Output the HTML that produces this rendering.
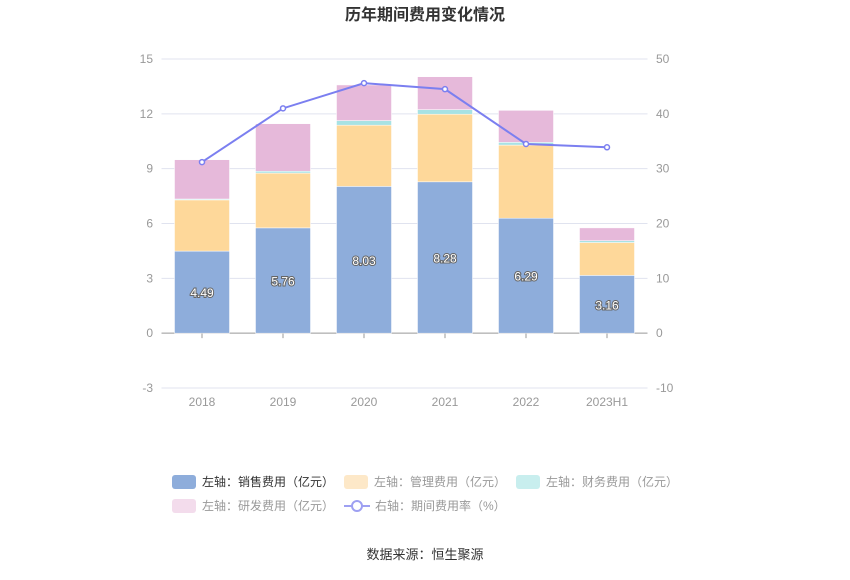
<!DOCTYPE html>
<html><head><meta charset="utf-8"><style>
body{margin:0;background:#fff;}
svg text{font-family:"Liberation Sans","Noto Sans CJK SC",sans-serif;}
</style></head><body>
<svg id="c" width="850" height="575" xmlns="http://www.w3.org/2000/svg">
<text x="425" y="20" text-anchor="middle" font-size="16" font-weight="bold" fill="#333">历年期间费用变化情况</text>
<g id="grid"></g><g id="bars"></g><g id="line"></g><g id="labels"></g>
<g id="legend" font-size="12" fill="#999">
<rect x="172" y="475" width="24" height="14" rx="3" fill="#8eaddb"/>
<text x="202" y="486"><tspan fill="#333">左轴：销售费用（亿元）</tspan></text>
<rect x="344" y="475" width="24" height="14" rx="3" fill="#fde8c8"/>
<text x="374" y="486">左轴：管理费用（亿元）</text>
<rect x="516" y="475" width="24" height="14" rx="3" fill="#c8eeee"/>
<text x="546" y="486">左轴：财务费用（亿元）</text>
<rect x="172" y="499" width="24" height="14" rx="3" fill="#f3dcec"/>
<text x="202" y="510">左轴：研发费用（亿元）</text>
<line x1="344" y1="506" x2="370" y2="506" stroke="#9ea0f2" stroke-width="2"/>
<circle cx="357" cy="506" r="5" fill="#fff" stroke="#9ea0f2" stroke-width="2"/>
<text x="375" y="510">右轴：期间费用率（%）</text>
</g>
<text x="425" y="559" text-anchor="middle" font-size="13" fill="#333">数据来源：恒生聚源</text>
</svg>
<script>
const categories=["2018","2019","2020","2021","2022","2023H1"];
const sales=[4.49,5.76,8.03,8.28,6.29,3.16];
const mgmt=[2.8,3.0,3.35,3.7,4.0,1.8];
const finance=[0.05,0.1,0.25,0.25,0.15,0.1];
const rd=[2.15,2.6,1.95,1.8,1.75,0.7];
const rate=[31.2,41.0,45.6,44.5,34.5,33.9];
const leftTicks=[-3,0,3,6,9,12,15];
const rightTicks=[-10,0,10,20,30,40,50];
const NS="http://www.w3.org/2000/svg";
const x0=161.5,x1=647.5,yTop=59,yBot=388;
const yL=v=>yBot-(v+3)/18*(yBot-yTop);
const yR=v=>yBot-(v+10)/60*(yBot-yTop);
const bw=(x1-x0)/categories.length;
const xc=i=>x0+bw*(i+0.5);
function mk(tag,attrs,parent){const e=document.createElementNS(NS,tag);for(const k in attrs)e.setAttribute(k,attrs[k]);document.getElementById(parent).appendChild(e);return e;}
leftTicks.forEach((t,i)=>{
  const y=yL(t);
  const g=mk('line',{x1:x0,x2:x1,y1:y,y2:y,stroke:t===0?'#999':'#e0e3ef','stroke-width':1},'grid');
  
  
  const a=mk('text',{x:153,y:y+4,'text-anchor':'end','font-size':12,fill:'#999'},'grid');a.textContent=t;
  
  
  const b=mk('text',{x:656,y:yR(rightTicks[i])+4,'font-size':12,fill:'#999'},'grid');b.textContent=rightTicks[i];
  
  
});
categories.forEach((c,i)=>{
  const t=mk('text',{x:xc(i),y:406,'text-anchor':'middle','font-size':12,fill:'#999'},'grid');t.textContent=c;
  
  
  const tk=mk('line',{x1:xc(i),x2:xc(i),y1:yL(0),y2:yL(0)+5,stroke:'#999'},'grid');
  
  
  let base=0;
  [[sales,'#8eaddb','bar-sales'],[mgmt,'#fed89a','bar-mgmt'],[finance,'#a8e2e4','bar-finance'],[rd,'#e6b9da','bar-rd']].forEach(([arr,col,nm])=>{
    const v=arr[i];
    const r=mk('rect',{x:xc(i)-27.5,width:55,y:yL(base+v),height:yL(base)-yL(base+v),fill:col,stroke:'#fff','stroke-width':0.5},'bars');
    
    
    base+=v;
  });
  const l=mk('text',{x:xc(i),y:yL(sales[i]/2)+5,'text-anchor':'middle','font-size':12,fill:'#fff',stroke:'#666','stroke-width':2,'paint-order':'stroke'},'labels');
  l.textContent=sales[i].toFixed(2);
  
  
});
const p=mk('polyline',{points:rate.map((v,i)=>xc(i)+','+yR(v)).join(' '),fill:'none',stroke:'#7b7ff0','stroke-width':2},'line');


rate.forEach((v,i)=>{
  const c=mk('circle',{cx:xc(i),cy:yR(v),r:2.5,fill:'#fff',stroke:'#7b7ff0','stroke-width':1.5},'line');
  
  
});
</script>
</body></html>
